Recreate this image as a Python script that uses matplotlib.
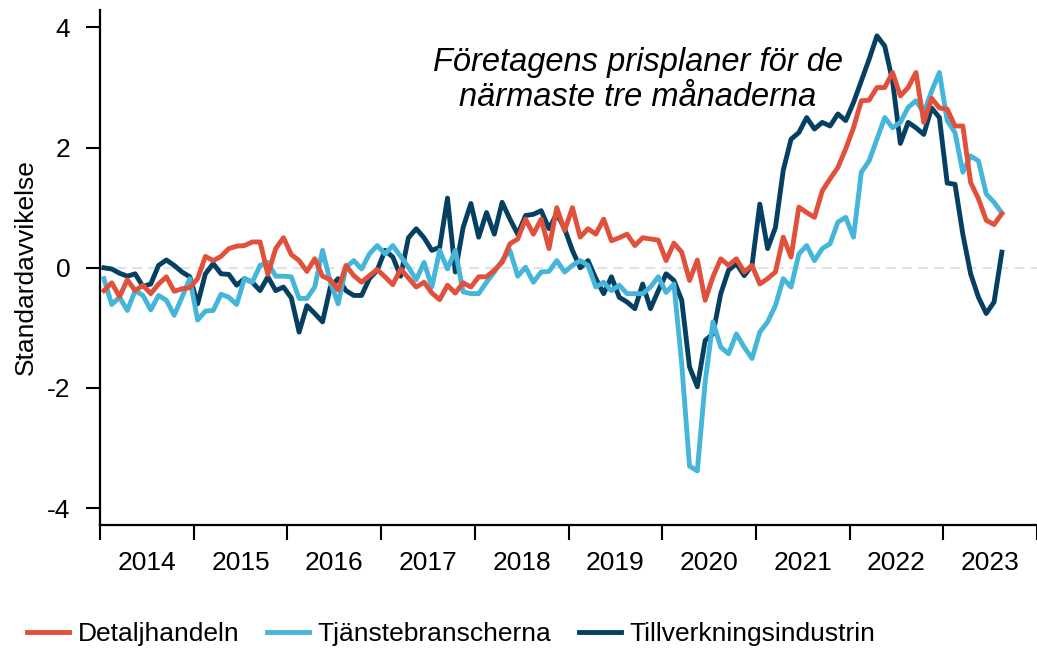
import matplotlib
matplotlib.use("Agg")
import matplotlib.pyplot as plt
import numpy as np

plt.rcParams["font.family"] = ["Liberation Sans", "DejaVu Sans"]

# Månadsdata jan 2014 - aug 2023 (standardavvikelser)
detaljhandeln = [
    -0.38, -0.25, -0.48, -0.20, -0.38, -0.29, -0.43, -0.27, -0.15, -0.39, -0.35, -0.33,
    -0.18, 0.19, 0.12, 0.19, 0.32, 0.36, 0.37, 0.43, 0.43, -0.11, 0.32, 0.50,
    0.22, 0.12, -0.06, 0.15, -0.14, -0.20, -0.37, 0.04, -0.13, -0.24, -0.13, -0.03,
    -0.15, -0.28, -0.02, -0.17, -0.32, -0.24, -0.42, -0.53, -0.29, -0.42, -0.25, -0.32,
    -0.15, -0.15, -0.04, 0.09, 0.40, 0.48, 0.81, 0.56, 0.81, 0.32, 1.00, 0.62,
    1.00, 0.51, 0.65, 0.56, 0.81, 0.45, 0.50, 0.56, 0.37, 0.50, 0.48, 0.46,
    0.12, 0.41, 0.26, -0.21, 0.13, -0.54, -0.15, 0.15, 0.04, 0.15, -0.07, 0.04,
    -0.27, -0.18, -0.07, 0.51, 0.18, 1.01, 0.92, 0.84, 1.28, 1.48, 1.67, 1.98,
    2.33, 2.78, 2.79, 3.00, 3.00, 3.25, 2.86, 3.00, 3.25, 2.42, 2.82, 2.66,
    2.64, 2.36, 2.36, 1.42, 1.15, 0.79, 0.72, 0.90,
]
tjanstebranscherna = [
    -0.18, -0.61, -0.49, -0.71, -0.38, -0.46, -0.70, -0.46, -0.54, -0.79, -0.49, -0.18,
    -0.87, -0.72, -0.71, -0.44, -0.49, -0.61, -0.18, -0.24, 0.04, 0.09, -0.14, -0.14,
    -0.15, -0.51, -0.51, -0.32, 0.29, -0.24, -0.60, 0.01, 0.12, -0.02, 0.23, 0.37,
    0.23, 0.37, 0.19, 0.01, -0.20, 0.09, -0.32, 0.29, -0.02, 0.29, -0.40, -0.43,
    -0.43, -0.24, -0.07, 0.12, 0.29, -0.14, 0.01, -0.24, -0.07, -0.06, 0.12, -0.07,
    0.04, 0.12, 0.04, -0.32, -0.24, -0.38, -0.29, -0.43, -0.43, -0.43, -0.32, -0.15,
    -0.41, -0.27, -1.60, -3.30, -3.38, -1.90, -0.90, -1.32, -1.43, -1.10, -1.32, -1.51,
    -1.07, -0.90, -0.63, -0.18, -0.32, 0.23, 0.37, 0.12, 0.32, 0.40, 0.76, 0.84,
    0.51, 1.59, 1.78, 2.14, 2.50, 2.33, 2.42, 2.67, 2.78, 2.58, 2.94, 3.25,
    2.45, 2.25, 1.59, 1.86, 1.78, 1.23, 1.09, 0.91,
]
tillverkningsindustrin = [
    0.00, -0.02, -0.09, -0.14, -0.10, -0.31, -0.27, 0.04, 0.13, 0.04, -0.07, -0.15,
    -0.60, -0.10, 0.07, -0.10, -0.11, -0.29, -0.18, -0.24, -0.38, -0.15, -0.38, -0.32,
    -0.50, -1.07, -0.63, -0.76, -0.90, -0.32, -0.18, -0.38, -0.46, -0.46, -0.18, -0.04,
    0.29, 0.18, -0.14, 0.50, 0.65, 0.50, 0.29, 0.34, 1.16, -0.07, 0.67, 1.07,
    0.51, 0.92, 0.56, 1.09, 0.81, 0.56, 0.87, 0.89, 0.95, 0.65, 0.90, 0.65,
    0.29, 0.00, 0.12, -0.18, -0.43, -0.15, -0.49, -0.57, -0.68, -0.27, -0.68, -0.38,
    -0.10, -0.21, -0.54, -1.65, -1.98, -1.21, -1.10, -0.43, -0.04, 0.07, -0.13, 0.04,
    1.06, 0.32, 0.67, 1.62, 2.14, 2.25, 2.50, 2.31, 2.42, 2.36, 2.56, 2.45,
    2.75, 3.11, 3.47, 3.86, 3.69, 3.11, 2.07, 2.42, 2.33, 2.22, 2.66, 2.50,
    1.41, 1.39, 0.56, -0.10, -0.49, -0.76, -0.57, 0.26,
]
years = ["2014", "2015", "2016", "2017", "2018", "2019", "2020", "2021", "2022", "2023"]
y_ticks = [-4, -2, 0, 2, 4]

RED = "#E0503A"
LIGHT = "#45B5D9"
DARK = "#053F62"
FS = 19
LW = 3.5

# x i månader från jan 2014, punkt mitt i månaden
months = np.arange(len(detaljhandeln)) + 0.5

fig = plt.figure(figsize=(10.37, 6.51), dpi=100)
ax = fig.add_axes([100 / 1037, 1 - 525 / 651, 937 / 1037, 515 / 651])

ax.axhline(0, color="#dde3e9", lw=1.5, linestyle=(0, (4.8, 2.9)), zorder=1)
ax.plot(months, tillverkningsindustrin, color=DARK, lw=LW, label="Tillverkningsindustrin", zorder=3)
ax.plot(months, tjanstebranscherna, color=LIGHT, lw=LW, label="Tjänstebranscherna", zorder=3)
ax.plot(months, detaljhandeln, color=RED, lw=LW, label="Detaljhandeln", zorder=4)

ax.set_xlim(0, 12 * len(years))
ax.set_ylim(-4.28, 4.29)

# årsgränser som streck, årtal mitt emellan
ax.set_xticks(np.arange(0, 12 * len(years) + 1, 12))
ax.set_xticklabels([])
ax.set_xticks(np.arange(6, 12 * len(years), 12), minor=True)
ax.set_xticklabels(years, minor=True, fontsize=FS)
ax.tick_params(axis="x", which="major", length=11, width=1.5, direction="out")
ax.tick_params(axis="x", which="minor", length=0, pad=19)

ax.set_yticks(y_ticks)
ax.set_yticklabels([str(t) for t in y_ticks], fontsize=FS)
ax.tick_params(axis="y", length=10, width=1.5, pad=11.5)

for side in ["top", "right"]:
    ax.spines[side].set_visible(False)
for side in ["left", "bottom"]:
    ax.spines[side].set_linewidth(1.6)

ax.set_ylabel("Standardavvikelse", fontsize=FS)
ax.yaxis.set_label_coords(-0.066, 0.5)

ax.text(0.574, 0.864, "Företagens prisplaner för de\nnärmaste tre månaderna",
        transform=ax.transAxes, ha="center", va="center", fontsize=23.5,
        style="italic", linespacing=1.13)

handles, labels = ax.get_legend_handles_labels()
order = [2, 1, 0]
fig.legend([handles[i] for i in order], [labels[i] for i in order],
           loc="center left", bbox_to_anchor=(27 / 1037, 1 - 634 / 651),
           ncol=3, frameon=False, fontsize=FS, borderpad=0, borderaxespad=0,
           handlelength=1.58, handletextpad=0.34, columnspacing=1.05)

fig.savefig("out.png", dpi=100)
